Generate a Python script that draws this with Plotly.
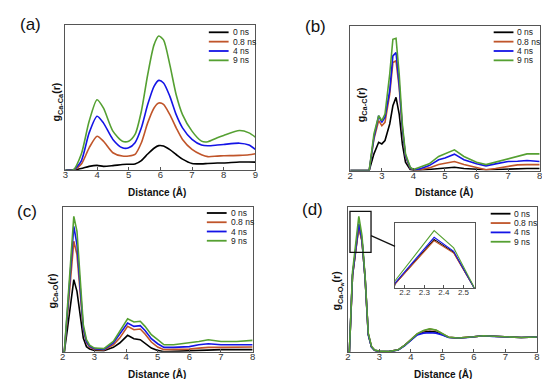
import plotly.graph_objects as go

# ---------------- data ----------------
SERIES = ["0 ns", "0.8 ns", "4 ns", "9 ns"]
COLORS = ["#000000", "#c0552a", "#1414e6", "#55a032"]

# (a) Ca-Ca
XA = [3.0, 3.25, 3.5, 3.75, 4.0, 4.2, 4.5, 4.8, 5.0, 5.2, 5.4, 5.6, 5.8, 5.95, 6.1, 6.3,
      6.5, 6.7, 7.0, 7.3, 7.5, 7.8, 8.0, 8.5, 8.8, 9.0]
A_0 = [0, 0, 0.10, 0.25, 0.32, 0.25, 0.30, 0.38, 0.40, 0.42, 0.65, 1.10, 1.50, 1.68, 1.65, 1.40,
       1.07, 0.75, 0.45, 0.42, 0.45, 0.48, 0.48, 0.55, 0.55, 0.54]
A_08 = [0, 0, 0.39, 1.53, 2.33, 1.99, 1.19, 0.96, 0.96, 1.08, 1.88, 3.25, 4.28, 4.62, 4.53, 3.82,
        2.91, 2.11, 1.42, 1.05, 0.92, 0.96, 0.98, 1.01, 1.05, 1.12]
A_4 = [0, 0, 0.62, 2.56, 3.71, 3.25, 2.11, 1.53, 1.53, 1.88, 2.91, 4.51, 5.77, 6.18, 6.00, 5.08,
       3.82, 2.91, 2.11, 1.72, 1.67, 1.72, 1.76, 1.85, 1.72, 1.42]
A_9 = [0, 0, 1.08, 3.36, 4.85, 4.28, 2.68, 1.99, 1.99, 2.45, 4.05, 6.57, 8.63, 9.24, 8.97, 7.25,
       5.19, 3.82, 2.68, 1.99, 1.95, 2.22, 2.38, 2.72, 2.56, 2.27]

# (b) Ca-C
XB = [2.0, 2.5, 2.6, 2.75, 2.9, 3.0, 3.1, 3.25, 3.35, 3.45, 3.55, 3.65, 3.75, 3.9, 4.0, 4.2,
      4.5, 4.8, 5.0, 5.3, 5.6, 6.0, 6.3, 6.6, 7.0, 7.3, 7.6, 8.0]
B_0 = [0, 0, 0, 1.15, 1.95, 1.84, 2.07, 3.22, 4.48, 5.06, 3.91, 1.84, 0.57, 0.07, 0, 0.02,
       0.07, 0.14, 0.18, 0.23, 0.14, 0.07, 0.05, 0.07, 0.11, 0.14, 0.14, 0.14]
B_08 = [0, 0, 0, 2.18, 3.45, 3.10, 3.33, 5.29, 7.47, 7.59, 5.75, 2.87, 0.97, 0.14, 0.02, 0.05,
        0.18, 0.41, 0.51, 0.62, 0.41, 0.23, 0.05, 0.14, 0.28, 0.39, 0.41, 0.41]
B_4 = [0, 0, 0, 2.30, 3.79, 3.33, 3.68, 5.52, 7.93, 8.16, 5.98, 2.99, 1.03, 0.18, 0.05, 0.11,
       0.34, 0.74, 0.87, 1.13, 0.74, 0.46, 0.32, 0.46, 0.62, 0.64, 0.69, 0.62]
B_9 = [0, 0, 0, 2.53, 3.79, 3.45, 3.91, 6.67, 9.08, 9.15, 6.67, 3.22, 1.15, 0.23, 0.07, 0.23,
       0.46, 0.97, 1.15, 1.43, 0.97, 0.57, 0.41, 0.57, 0.80, 0.97, 1.15, 1.15]

# (c) Ca-O
XC = [2.0, 2.05, 2.15, 2.25, 2.35, 2.45, 2.55, 2.65, 2.75, 2.85, 3.0, 3.3, 3.6, 3.8, 4.05, 4.25,
      4.45, 4.6, 4.8, 5.0, 5.2, 5.5, 6.0, 6.3, 6.6, 7.0, 7.5, 8.0]
C_0 = [0, 0, 1.6, 3.3, 4.98, 4.17, 2.56, 0.94, 0.35, 0.18, 0.09, 0.07, 0.30, 0.60, 1.13, 0.90,
       0.83, 0.60, 0.25, 0.09, 0, 0.02, 0.07, 0.12, 0.14, 0.14, 0.14, 0.14]
C_08 = [0, 0, 2.5, 5.1, 7.63, 6.71, 3.94, 1.52, 0.62, 0.32, 0.16, 0.12, 0.48, 0.94, 1.75, 1.52,
        1.57, 1.22, 0.67, 0.32, 0.14, 0.14, 0.18, 0.25, 0.30, 0.30, 0.30, 0.32]
C_4 = [0, 0, 2.85, 5.8, 8.66, 7.40, 4.29, 1.64, 0.70, 0.38, 0.21, 0.16, 0.60, 1.18, 1.98, 1.75,
       1.80, 1.47, 0.90, 0.55, 0.30, 0.30, 0.35, 0.48, 0.55, 0.48, 0.48, 0.48]
C_9 = [0, 0, 3.1, 6.2, 9.35, 8.32, 4.86, 1.87, 0.83, 0.45, 0.25, 0.21, 0.71, 1.41, 2.28, 2.05,
       2.10, 1.75, 1.18, 0.83, 0.48, 0.48, 0.60, 0.71, 0.83, 0.71, 0.71, 0.78]

# (d) Ca-Ow
XD = [2.0, 2.05, 2.15, 2.25, 2.35, 2.45, 2.55, 2.65, 2.75, 2.85, 3.0, 3.3, 3.6, 3.8, 4.0, 4.2,
      4.4, 4.6, 4.8, 5.0, 5.2, 5.5, 5.8, 6.0, 6.3, 6.6, 7.0, 7.5, 8.0]
D_0 = [0, 0, 5.26, 7.0, 8.69, 7.69, 5.08, 1.2, 0.35, 0.12, 0.05, 0.03, 0.15, 0.45, 0.82, 1.2,
       1.38, 1.42, 1.38, 1.22, 1.02, 0.97, 1.0, 1.05, 1.12, 1.08, 1.03, 1.0, 1.03]
D_08 = [0, 0, 5.26, 6.93, 8.59, 7.64, 5.08, 1.25, 0.38, 0.12, 0.05, 0.03, 0.15, 0.45, 0.85, 1.25,
        1.45, 1.58, 1.5, 1.25, 1.02, 0.97, 1.0, 1.05, 1.12, 1.08, 1.03, 1.0, 1.03]
D_4 = [0, 0, 5.33, 7.09, 8.85, 7.77, 5.08, 1.2, 0.35, 0.12, 0.05, 0.03, 0.14, 0.42, 0.8, 1.18,
       1.3, 1.33, 1.3, 1.18, 1.0, 0.97, 1.0, 1.05, 1.12, 1.08, 1.03, 1.0, 1.03]
D_9 = [0, 0, 5.51, 7.44, 9.36, 8.03, 5.15, 1.3, 0.4, 0.14, 0.06, 0.03, 0.15, 0.45, 0.85, 1.25,
       1.48, 1.6, 1.52, 1.25, 1.02, 0.97, 1.0, 1.05, 1.12, 1.08, 1.03, 1.0, 1.03]

TICKS_A = [3, 4, 5, 6, 7, 8, 9]
TICKS_BCD = [2, 3, 4, 5, 6, 7, 8]
TICKS_INSET = [2.2, 2.3, 2.4, 2.5]

PANEL_LABELS = ["(a)", "(b)", "(c)", "(d)"]
Y_TITLES = ["g<sub>Ca-Ca</sub>(r)", "g<sub>Ca-C</sub>(r)", "g<sub>Ca-O</sub>(r)",
            "g<sub>Ca-O<sub>w</sub></sub>(r)"]
X_TITLE = "Distance (Å)"

# ---------------- layout geometry (pixels of the 550x379 canvas) ----------------
W, H = 550, 379
def px(x): return x / W
def py(y): return 1 - y / H

FRAMES = {  # left, top, right, bottom
    "a": (55, 17, 247, 162),
    "b": (343, 18, 534.5, 162.5),
    "c": (52.3, 199, 244.3, 343.7),
    "d": (340.5, 199, 531.7, 344),
}
INSET = (388.3, 215, 469.3, 280)

fig = go.Figure()
FONT = "Arial, Liberation Sans, sans-serif"

panels = [
    ("a", "x", "y", XA, [A_0, A_08, A_4, A_9], "spline"),
    ("b", "x2", "y2", XB, [B_0, B_08, B_4, B_9], "linear"),
    ("c", "x3", "y3", XC, [C_0, C_08, C_4, C_9], "linear"),
    ("d", "x4", "y4", XD, [D_0, D_08, D_4, D_9], "linear"),
]
for key, xa, ya, xs, ys_list, shape in panels:
    for name, col, ys in zip(SERIES, COLORS, ys_list):
        fig.add_trace(go.Scatter(x=xs, y=ys, mode="lines", name=name, xaxis=xa, yaxis=ya,
                                 line=dict(color=col, width=1.6, shape=shape,
                                           smoothing=0.7 if shape == "spline" else None),
                                 showlegend=False))
# inset (zoom of panel d)
for name, col, ys in zip(SERIES, COLORS, [D_0, D_08, D_4, D_9]):
    fig.add_trace(go.Scatter(x=XD, y=ys, mode="lines", name=name, xaxis="x5", yaxis="y5",
                             line=dict(color=col, width=1.1), showlegend=False))

axis_common = dict(showline=True, mirror=True, linecolor="#555555", linewidth=1,
                   showgrid=False, zeroline=False)
xaxis_common = dict(axis_common, ticks="inside", ticklen=3, tickcolor="#555555",
                    ticklabelstandoff=-4,
                    tickfont=dict(family=FONT, size=9.5, color="#333333"))
yaxis_common = dict(axis_common, ticks="", showticklabels=False, range=[0, 10])

def dom(frame):
    l, t, r, b = frame
    return [px(l), px(r)], [py(b), py(t)]

layout = dict(width=W, height=H, margin=dict(l=0, r=0, t=0, b=0),
              paper_bgcolor="white", plot_bgcolor="white", showlegend=False)
ranges = {"a": [3, 9], "b": [2, 8], "c": [2, 8], "d": [2, 8]}
ticks = {"a": TICKS_A, "b": TICKS_BCD, "c": TICKS_BCD, "d": TICKS_BCD}
for i, key in enumerate(["a", "b", "c", "d"]):
    xd, yd = dom(FRAMES[key])
    sfx = "" if i == 0 else str(i + 1)
    layout["xaxis" + sfx] = dict(xaxis_common, domain=xd, range=ranges[key], tickvals=ticks[key],
                                 anchor="y" + sfx)
    layout["yaxis" + sfx] = dict(yaxis_common, domain=yd, anchor="x" + sfx)
xd, yd = dom(INSET)
layout["xaxis5"] = dict(xaxis_common, domain=xd, range=[2.15, 2.56], tickvals=TICKS_INSET,
                        anchor="y5", tickfont=dict(family=FONT, size=8, color="#333333"))
layout["yaxis5"] = dict(yaxis_common, domain=yd, range=[4.95, 9.95], anchor="x5")
fig.update_layout(**layout)

annotations = []
shapes = []
# panel labels, axis titles
PANEL_LABEL_POS = {"a": (20, 17), "b": (308, 18), "c": (16, 203), "d": (305, 201)}
YTITLE_POS = {"a": (47, 94), "b": (355, 97), "c": (42, 283), "d": (330, 283)}
XTITLE_POS = {"a": (148, 184), "b": (438, 184), "c": (148, 366), "d": (437, 366)}

def note(text, x, y, size, xanchor="center", angle=0, color="#111111"):
    return dict(text=text, x=px(x), y=py(y), xref="paper", yref="paper", showarrow=False,
                xanchor=xanchor, yanchor="middle", textangle=angle,
                font=dict(family=FONT, size=size, color=color))

for key, lab, yt in zip(["a", "b", "c", "d"], PANEL_LABELS, Y_TITLES):
    annotations.append(note(lab, *PANEL_LABEL_POS[key], 17))
    annotations.append(note("<b>" + yt + "</b>", *YTITLE_POS[key], 10.5, angle=-90))
    annotations.append(note("<b>" + X_TITLE + "</b>", *XTITLE_POS[key], 10))

# legends (line sample + text)
LEGEND_POS = {  # line x0, line x1, first row y, row spacing
    "a": (200, 220, 24.3, 9.35),
    "b": (488, 508, 24.3, 9.35),
    "c": (198, 218, 205, 9.25),
    "d": (485, 505, 205.7, 9.35),
}
for key, (x0, x1, y0, dy) in LEGEND_POS.items():
    for j, (name, col) in enumerate(zip(SERIES, COLORS)):
        y = y0 + j * dy
        shapes.append(dict(type="line", xref="paper", yref="paper", x0=px(x0), x1=px(x1),
                           y0=py(y), y1=py(y), line=dict(color=col, width=1.8)))
        annotations.append(note(name, x1 + 2, y, 8.5, xanchor="left", color="#222222"))

# zoom box and connector in panel (d)
ZOOM_BOX = (342.7, 203.3, 364, 244.3)
CONNECTOR = ((364, 227.7), (388.3, 238.3))
shapes.append(dict(type="rect", xref="paper", yref="paper", x0=px(ZOOM_BOX[0]), x1=px(ZOOM_BOX[2]),
                   y0=py(ZOOM_BOX[3]), y1=py(ZOOM_BOX[1]), line=dict(color="#111111", width=1.3)))
shapes.append(dict(type="line", xref="paper", yref="paper", x0=px(CONNECTOR[0][0]),
                   y0=py(CONNECTOR[0][1]), x1=px(CONNECTOR[1][0]), y1=py(CONNECTOR[1][1]),
                   line=dict(color="#111111", width=1.3)))

fig.update_layout(annotations=annotations, shapes=shapes)
fig.write_html("out.html")
